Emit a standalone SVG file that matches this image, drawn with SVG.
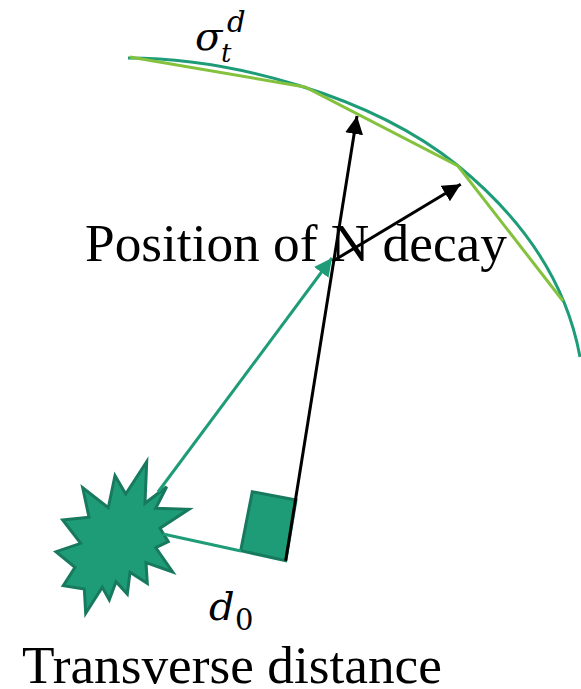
<svg xmlns="http://www.w3.org/2000/svg" width="581" height="689" viewBox="0 0 581 689">
<defs>
<style>
.lbl{font-family:"Liberation Serif","Times New Roman",serif;font-size:53.300px;fill:#000}
.math{font-family:"DejaVu Serif",serif;font-style:italic;fill:#000}
.up{font-family:"DejaVu Serif",serif;fill:#000}
.t{fill:none;stroke:#1e9c78;stroke-width:3}
.b{fill:none;stroke:#000;stroke-width:3}
</style>
<marker id="ab" markerUnits="userSpaceOnUse" markerWidth="20" markerHeight="20" refX="18" refY="9" orient="auto"><path d="M0 0L18 9L0 18Z" fill="#000"/></marker>
<marker id="at" markerUnits="userSpaceOnUse" markerWidth="20" markerHeight="20" refX="18" refY="9" orient="auto"><path d="M0 0L18 9L0 18Z" fill="#1e9c78"/></marker>
</defs>
<g id="source">
<polygon points="146.700,461.700 145,503.300 166.700,486.700 155.700,508.300 189,509.300 160,528.300 168.300,541.700 155.700,547.700 172.700,572 146,562.700 147.300,583.300 130,572.300 127.300,594 116,581.700 109.300,600 102.300,587.300 85.700,613.300 84.300,589 63.300,585.700 75,567.300 56,551.700 80.700,543.300 62.700,520 89,517.300 82.700,487.700 108.300,507.700 115,475.700 125.700,494" fill="#1e9c78" stroke="#177a5e" stroke-width="3"/>
</g>
<g id="right-angle">
<polygon points="252.300,491.700 296,500 285.700,560.700 240.700,550.700" fill="#1e9c78" stroke="#177a5e" stroke-width="3"/>
</g>
<g id="labels">
<text class="lbl" x="85" y="261">Position of N decay</text>
<text class="lbl" x="22" y="683">Transverse distance</text>
<text class="math" x="195" y="50" font-size="40">σ</text>
<text class="math" x="221" y="62" font-size="26">t</text>
<text class="math" x="227" y="32" font-size="29">d</text>
<text class="math" x="209" y="620" font-size="40">d</text>
<text class="up" x="235" y="630" font-size="29">0</text>
</g>
<g id="connectors">
<path id="arc" class="t" d="M128 58C230 58 370 95 457 165C515 212 565 275 580 357"/>
<polyline id="chords" points="130,57 305,87 458,166 563,301" fill="none" stroke="#84c13c" stroke-width="3"/>
<line class="t" x1="158" y1="492" x2="332" y2="258" marker-end="url(#at)"/>
<line class="t" x1="163" y1="534" x2="241" y2="551"/>
<line class="b" x1="285.700" y1="560.700" x2="357" y2="116" marker-end="url(#ab)"/>
<line class="b" x1="333" y1="261" x2="460.700" y2="184.300" marker-end="url(#ab)"/>
</g>
</svg>
